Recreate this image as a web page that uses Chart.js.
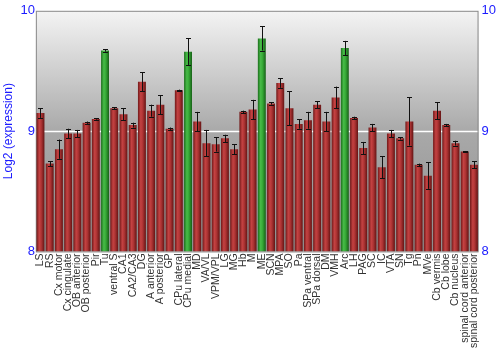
<!DOCTYPE html>
<html>
<head>
<meta charset="utf-8">
<script src="https://cdn.jsdelivr.net/npm/chart.js@4.4.1/dist/chart.umd.min.js"></script>
<style>
  html, body { margin: 0; padding: 0; background: #fff; }
  #wrap { width: 500px; height: 350px; }
</style>
</head>
<body>
<div id="wrap"><canvas id="c"></canvas></div>
<script>
// Brain region expression (log2) with standard errors

const regions = ['LS', 'RS', 'Cx motor', 'Cx cingulate', 'OB anterior', 'OB posterior', 'Pir', 'Tu',
  'ventral S', 'CA1', 'CA2/CA3', 'DG', 'A anterior', 'A posterior', 'GP', 'CPu lateral', 'CPu medial',
  'MD', 'VA/VL', 'VPM/VPL', 'LG', 'MG', 'Hb', 'M', 'ME', 'SCN', 'MPA', 'SO', 'Pa', 'SPa ventral',
  'SPa dorsal', 'DM', 'VMH', 'Arc', 'LH', 'PAG', 'SC', 'IC', 'VTA', 'SN', 'Tg', 'Pn', 'MVe',
  'Cb vermis', 'Cb lobe', 'Cb nucleus', 'spinal cord anterior', 'spinal cord posterior'];

const expression = [9.15, 8.73, 8.85, 8.98, 8.98, 9.07, 9.10, 9.67,
  9.19, 9.14, 9.05, 9.41, 9.17, 9.22, 9.02, 9.34, 9.66,
  9.08, 8.90, 8.89, 8.94, 8.85, 9.16, 9.18, 9.77, 9.23, 9.40, 9.19, 9.06, 9.09,
  9.22, 9.08, 9.28, 9.69, 9.11, 8.86, 9.03, 8.70, 8.98, 8.94, 9.08, 8.72, 8.63,
  9.17, 9.05, 8.90, 8.83, 8.72];

const stdErr = [0.04, 0.02, 0.08, 0.04, 0.03, 0.01, 0.005, 0.01,
  0.01, 0.05, 0.02, 0.08, 0.05, 0.08, 0.01, 0.005, 0.11,
  0.08, 0.11, 0.06, 0.03, 0.04, 0.01, 0.08, 0.10, 0.01, 0.04, 0.14, 0.04, 0.07,
  0.03, 0.08, 0.09, 0.06, 0.01, 0.05, 0.03, 0.09, 0.03, 0.01, 0.20, 0.01, 0.11,
  0.07, 0.01, 0.02, 0.005, 0.03];

// highlighted regions drawn in green
const highlighted = ['Tu', 'CPu medial', 'ME', 'Arc'];

const yTicks = [8, 9, 10];

const BLUE = '#1a1aff';
const BAR_PCT = 0.86;

// cylinder-like shading across each bar
function barFill(ctx) {
  const chart = ctx.chart;
  const green = highlighted.includes(regions[ctx.dataIndex]);
  const xs = chart.scales.x;
  if (!chart.chartArea || !xs || !xs.width) return green ? '#3aa83a' : '#b03030';
  const cx = xs.getPixelForValue(ctx.dataIndex);
  const w = xs.width / regions.length * BAR_PCT;
  const g = chart.ctx.createLinearGradient(cx - w / 2, 0, cx + w / 2, 0);
  if (green) {
    g.addColorStop(0, '#1c6e1c');
    g.addColorStop(0.35, '#48bc48');
    g.addColorStop(0.6, '#36a836');
    g.addColorStop(1, '#176017');
  } else {
    g.addColorStop(0, '#701818');
    g.addColorStop(0.35, '#c44242');
    g.addColorStop(0.6, '#ae3434');
    g.addColorStop(1, '#641414');
  }
  return g;
}

const backdrop = {
  id: 'backdrop',
  beforeDatasetsDraw(chart) {
    const { ctx, chartArea: a, scales } = chart;
    const g = ctx.createLinearGradient(0, a.top, 0, a.bottom);
    g.addColorStop(0, '#f4f4f4');
    g.addColorStop(0.5, '#a9a9a9');
    g.addColorStop(1, '#8e8e8e');
    ctx.save();
    ctx.fillStyle = g;
    ctx.fillRect(a.left, a.top, a.right - a.left, a.bottom - a.top);
    // white line at 9
    const y9 = Math.round(scales.y.getPixelForValue(9)) + 0.5;
    ctx.strokeStyle = '#ffffff';
    ctx.lineWidth = 1.5;
    ctx.beginPath();
    ctx.moveTo(a.left, y9);
    ctx.lineTo(a.right, y9);
    ctx.stroke();
    ctx.strokeStyle = '#8a8a8a';
    ctx.lineWidth = 1;
    ctx.strokeRect(a.left + 0.5, a.top + 0.5, a.right - a.left - 1, a.bottom - a.top);
    ctx.restore();
  }
};

const errorBars = {
  id: 'errorBars',
  afterDatasetsDraw(chart) {
    const { ctx, scales } = chart;
    const meta = chart.getDatasetMeta(0);
    ctx.save();
    ctx.strokeStyle = '#111';
    ctx.lineWidth = 1;
    meta.data.forEach((el, i) => {
      const v = expression[i], e = stdErr[i];
      const yHi = scales.y.getPixelForValue(v + e);
      const yLo = scales.y.getPixelForValue(v - e);
      const x = Math.round(el.x) + 0.5;
      ctx.beginPath();
      ctx.moveTo(x, yHi);
      ctx.lineTo(x, yLo);
      ctx.moveTo(x - 2.5, Math.round(yHi) + 0.5);
      ctx.lineTo(x + 2.5, Math.round(yHi) + 0.5);
      ctx.moveTo(x - 2.5, Math.round(yLo) + 0.5);
      ctx.lineTo(x + 2.5, Math.round(yLo) + 0.5);
      ctx.stroke();
    });
    ctx.restore();
  }
};

new Chart(document.getElementById('c'), {
  type: 'bar',
  data: {
    labels: regions,
    datasets: [{
      data: expression,
      base: 8,
      backgroundColor: barFill,
      borderWidth: 0,
      barPercentage: BAR_PCT,
      categoryPercentage: 1.0
    }]
  },
  options: {
    responsive: true,
    maintainAspectRatio: false,
    animation: false,
    layout: { padding: { top: 2, right: 1, left: 1, bottom: 0 } },
    plugins: {
      legend: { display: false },
      tooltip: { enabled: false }
    },
    scales: {
      x: {
        grid: { display: false, drawTicks: false },
        border: { display: false },
        ticks: {
          autoSkip: false,
          minRotation: 90,
          maxRotation: 90,
          padding: 2,
          color: '#333',
          font: { family: 'Liberation Sans, Arial, sans-serif', size: 10.5 }
        }
      },
      y: {
        position: 'left',
        min: 8,
        max: 10,
        afterBuildTicks: axis => { axis.ticks = yTicks.map(v => ({ value: v })); },
        grid: { display: false, drawTicks: false },
        border: { display: false },
        title: {
          display: true,
          text: 'Log2 (expression)',
          color: BLUE,
          padding: { top: 0, bottom: 4 },
          font: { family: 'Liberation Sans, Arial, sans-serif', size: 12 }
        },
        ticks: {
          color: BLUE,
          padding: 1,
          font: { family: 'Liberation Sans, Arial, sans-serif', size: 13 }
        }
      },
      y2: {
        position: 'right',
        min: 8,
        max: 10,
        afterBuildTicks: axis => { axis.ticks = yTicks.map(v => ({ value: v })); },
        grid: { display: false, drawTicks: false },
        border: { display: false },
        ticks: {
          color: BLUE,
          padding: 3,
          font: { family: 'Liberation Sans, Arial, sans-serif', size: 13 }
        }
      }
    }
  },
  plugins: [backdrop, errorBars]
});
</script>
</body>
</html>
